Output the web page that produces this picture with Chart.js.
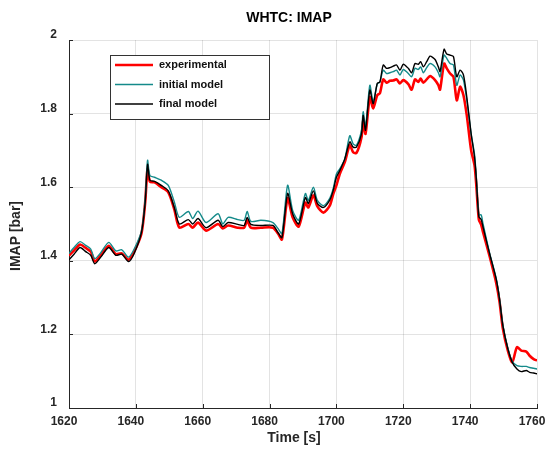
<!DOCTYPE html>
<html>
<head>
<meta charset="utf-8">
<script src="https://cdn.jsdelivr.net/npm/chart.js@4/dist/chart.umd.min.js"></script>
<style>
  html, body { margin: 0; padding: 0; background: #fff; }
  #wrap { width: 548px; height: 451px; position: relative; }
</style>
</head>
<body>
<div id="wrap"><canvas id="chartImap"></canvas></div>
<script>
// tempo [s]
const tempos = [
  1620, 1621.5, 1623.3, 1625, 1626.5, 1627.7, 1629.5, 1631.9, 1634, 1635.8,
  1637.8, 1639.5, 1641.7, 1642.8, 1643.5, 1644.2, 1645.6, 1647.6, 1649.7, 1651.5,
  1653, 1655.7, 1657, 1658.6, 1661, 1664.6, 1666, 1667.6, 1670.5, 1672.4,
  1673.3, 1674.4, 1677.4, 1681, 1682.5, 1683.7, 1685.4, 1686.9, 1688.7, 1690.7,
  1691.6, 1693.1, 1694.3, 1696.1, 1698, 1699, 1700, 1701, 1702.5, 1704,
  1705, 1706, 1707.5, 1708, 1708.7, 1710, 1711, 1712.2, 1713, 1714,
  1715, 1716, 1717, 1718, 1719, 1720, 1721.5, 1722.5, 1723.5, 1724.5,
  1725.2, 1726, 1727, 1728, 1729.5, 1730.5, 1731, 1732.2, 1733, 1734,
  1735, 1736, 1737, 1738, 1739, 1740.3, 1741.3, 1741.8, 1742.6, 1743.3,
  1743.8, 1745.8, 1747.8, 1748.8, 1749.8, 1751.3, 1752.6, 1754, 1755.3, 1756.8,
  1757.8, 1759, 1760,
];

const experimental = [
  1.414, 1.428, 1.444, 1.435, 1.425, 1.398, 1.415, 1.441, 1.418, 1.42,
  1.403, 1.425, 1.475, 1.56, 1.65, 1.615, 1.613, 1.6, 1.586, 1.54,
  1.49, 1.5, 1.49, 1.504, 1.482, 1.5, 1.488, 1.496, 1.49, 1.49,
  1.51, 1.49, 1.49, 1.49, 1.474, 1.458, 1.57, 1.518, 1.493, 1.558,
  1.545, 1.578, 1.548, 1.531, 1.55, 1.58, 1.605, 1.636, 1.668, 1.714,
  1.695, 1.693, 1.736, 1.782, 1.745, 1.845, 1.814, 1.85, 1.855, 1.893,
  1.884, 1.889, 1.89, 1.893, 1.882, 1.891, 1.88, 1.865, 1.893, 1.886,
  1.895, 1.884, 1.893, 1.902, 1.891, 1.877, 1.865, 1.936, 1.923, 1.909,
  1.9, 1.836, 1.873, 1.85, 1.795, 1.7, 1.66, 1.611, 1.512, 1.498,
  1.48, 1.413, 1.34, 1.288, 1.215, 1.155, 1.124, 1.165, 1.156, 1.153,
  1.142, 1.133, 1.129,
];

const modeloInicial = [
  1.42, 1.436, 1.452, 1.442, 1.432, 1.406, 1.422, 1.45, 1.427, 1.43,
  1.41, 1.432, 1.482, 1.57, 1.673, 1.632, 1.627, 1.619, 1.605, 1.56,
  1.518, 1.534, 1.515, 1.535, 1.504, 1.528, 1.5, 1.518, 1.512, 1.51,
  1.534, 1.507, 1.51, 1.504, 1.488, 1.474, 1.605, 1.537, 1.51, 1.583,
  1.564, 1.6, 1.564, 1.55, 1.57, 1.595, 1.636, 1.65, 1.677, 1.74,
  1.718, 1.714, 1.755, 1.805, 1.764, 1.877, 1.832, 1.88, 1.886, 1.918,
  1.909, 1.911, 1.914, 1.918, 1.905, 1.92, 1.909, 1.9, 1.923, 1.92,
  1.927, 1.911, 1.925, 1.936, 1.927, 1.911, 1.9, 1.959, 1.95, 1.936,
  1.932, 1.877, 1.905, 1.891, 1.836, 1.745, 1.69, 1.635, 1.525, 1.525,
  1.503, 1.422, 1.352, 1.297, 1.225, 1.162, 1.127, 1.115, 1.113, 1.113,
  1.11, 1.108, 1.106,
];

const modeloFinal = [
  1.403, 1.418, 1.436, 1.425, 1.415, 1.392, 1.41, 1.436, 1.415, 1.418,
  1.398, 1.42, 1.478, 1.56, 1.662, 1.619, 1.616, 1.605, 1.59, 1.545,
  1.5, 1.512, 1.5, 1.515, 1.49, 1.51, 1.493, 1.504, 1.499, 1.496,
  1.518, 1.499, 1.496, 1.496, 1.477, 1.463, 1.583, 1.528, 1.5, 1.572,
  1.556, 1.59, 1.556, 1.545, 1.565, 1.59, 1.627, 1.645, 1.677, 1.723,
  1.709, 1.709, 1.745, 1.795, 1.755, 1.864, 1.827, 1.882, 1.886, 1.932,
  1.923, 1.925, 1.929, 1.932, 1.918, 1.934, 1.923, 1.911, 1.936, 1.934,
  1.941, 1.927, 1.941, 1.956, 1.947, 1.927, 1.914, 1.975, 1.962, 1.959,
  1.955, 1.9, 1.918, 1.905, 1.845, 1.745, 1.683, 1.629, 1.52, 1.512,
  1.494, 1.42, 1.35, 1.295, 1.223, 1.16, 1.124, 1.106, 1.099, 1.102,
  1.097, 1.095, 1.093,
];

const ticksX = [1620, 1640, 1660, 1680, 1700, 1720, 1740, 1760];
const ticksY = [1, 1.2, 1.4, 1.6, 1.8, 2];

const titulo = "WHTC: IMAP";
const tituloX = "Time [s]";
const tituloY = "IMAP [bar]";

const FONTE = "'Liberation Sans', Arial, Helvetica, sans-serif";

function pontos(valores) {
  return valores.map((v, i) => ({ x: tempos[i], y: v }));
}

// títulos (posições como no original do MATLAB)
const titulos = {
  id: "titulos",
  afterDraw(chart) {
    const ctx = chart.ctx;
    const area = chart.chartArea;
    const meioX = (area.left + area.right) / 2;
    const meioY = (area.top + area.bottom) / 2;
    ctx.save();
    ctx.fillStyle = "#000";
    ctx.textAlign = "center";
    ctx.textBaseline = "middle";
    ctx.font = "bold 14px " + FONTE;
    ctx.fillText(titulo, meioX - 14, 18);
    ctx.fillStyle = "#262626";
    ctx.fillText(tituloX, meioX - 9, 438);
    ctx.translate(16, meioY + 12);
    ctx.rotate(-Math.PI / 2);
    ctx.fillText(tituloY, 0, 0);
    ctx.restore();
  },
};

// legenda desenhada dentro da área do gráfico
const legendaInterna = {
  id: "legendaInterna",
  afterDraw(chart) {
    const ctx = chart.ctx;
    const area = chart.chartArea;
    const x0 = area.left + 41;
    const y0 = area.top + 15;
    const w = 159;
    const h = 64;
    ctx.save();
    ctx.fillStyle = "#fff";
    ctx.fillRect(x0, y0, w, h);
    ctx.strokeStyle = "#333";
    ctx.lineWidth = 1;
    ctx.strokeRect(x0 + 0.5, y0 + 0.5, w, h);
    ctx.font = "bold 11px " + FONTE;
    ctx.textBaseline = "middle";
    chart.data.datasets.forEach((ds, i) => {
      const y = y0 + 10 + i * 19.5;
      ctx.strokeStyle = ds.borderColor;
      ctx.lineWidth = ds.borderWidth;
      ctx.beginPath();
      ctx.moveTo(x0 + 5, y);
      ctx.lineTo(x0 + 43, y);
      ctx.stroke();
      ctx.fillStyle = "#111";
      ctx.fillText(ds.label, x0 + 49, y);
    });
    ctx.restore();
  },
};

// marcas dos ticks para dentro
const ticksInternos = {
  id: "ticksInternos",
  afterDatasetsDraw(chart) {
    const ctx = chart.ctx;
    const area = chart.chartArea;
    const sx = chart.scales.x;
    const sy = chart.scales.y;
    ctx.save();
    ctx.strokeStyle = "#262626";
    ctx.lineWidth = 1;
    ctx.beginPath();
    ticksX.forEach((t) => {
      const px = Math.round(sx.getPixelForValue(t)) + 0.5;
      ctx.moveTo(px, area.bottom);
      ctx.lineTo(px, area.bottom - 4);
    });
    ticksY.forEach((t) => {
      const py = Math.round(sy.getPixelForValue(t)) + 0.5;
      ctx.moveTo(area.left, py);
      ctx.lineTo(area.left + 4, py);
    });
    ctx.stroke();
    ctx.restore();
  },
};

document.addEventListener("DOMContentLoaded", () => {
  const ctx = document.getElementById("chartImap").getContext("2d");

  new Chart(ctx, {
    type: "line",
    data: {
      datasets: [
        {
          label: "experimental",
          data: pontos(experimental),
          borderColor: "#ff0000",
          borderWidth: 2.6,
          order: 3,
        },
        {
          label: "initial model",
          data: pontos(modeloInicial),
          borderColor: "#148a8a",
          borderWidth: 1.4,
          order: 2,
        },
        {
          label: "final model",
          data: pontos(modeloFinal),
          borderColor: "#000000",
          borderWidth: 1.4,
          order: 1,
        },
      ],
    },
    options: {
      responsive: true,
      maintainAspectRatio: false,
      animation: false,
      layout: { padding: { top: 40, right: 11, bottom: 0, left: 0 } },
      elements: {
        point: { radius: 0 },
        line: { tension: 0.25, fill: false },
      },
      plugins: {
        legend: { display: false },
        tooltip: { enabled: false },
        title: { display: false },
      },
      scales: {
        x: {
          type: "linear",
          min: 1620,
          max: 1760,
          afterBuildTicks: (scale) => {
            scale.ticks = ticksX.map((v) => ({ value: v }));
          },
          afterFit: (scale) => {
            scale.height = 43;
            scale.paddingLeft = 0;
            scale.paddingRight = 0;
          },
          grid: { color: "rgba(0,0,0,0.11)", drawTicks: false },
          border: { color: "#262626", width: 1 },
          ticks: {
            color: "#262626",
            padding: 6,
            labelOffset: -5,
            maxRotation: 0,
            font: { family: FONTE, size: 12, weight: "bold" },
            callback: (v) => String(v),
          },
        },
        y: {
          min: 1,
          max: 2,
          afterBuildTicks: (scale) => {
            scale.ticks = ticksY.map((v) => ({ value: v }));
          },
          afterFit: (scale) => {
            scale.width = 69;
            scale.paddingTop = 0;
            scale.paddingBottom = 0;
          },
          grid: { color: "rgba(0,0,0,0.11)", drawTicks: false },
          border: { color: "#262626", width: 1 },
          ticks: {
            color: "#262626",
            padding: 12,
            labelOffset: -5,
            font: { family: FONTE, size: 12, weight: "bold" },
            callback: (v) => String(+v.toFixed(1)),
          },
        },
      },
    },
    plugins: [ticksInternos, legendaInterna, titulos],
  });
});
</script>
</body>
</html>
